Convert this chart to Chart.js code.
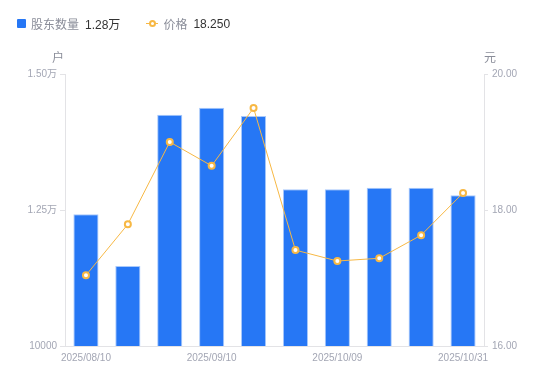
<!DOCTYPE html>
<html>
<head>
<meta charset="utf-8">
<script src="https://cdn.jsdelivr.net/npm/chart.js@4.4.0/dist/chart.umd.min.js"></script>
<style>
    body { margin: 0; background: #fff; font-family: 'Liberation Sans', 'Noto Sans CJK SC', sans-serif; }
    #wrap { position: relative; width: 550px; height: 381px; }
    #legend { position: absolute; left: 17px; top: 15px; font-size: 12px; display: flex; align-items: center; }
    .item { display: flex; align-items: center; margin-right: 26px; }
    .sq { width: 9px; height: 9px; background: #2677f5; border-radius: 1px; margin-right: 5px; }
    .ln { position: relative; width: 12px; height: 9px; margin-right: 5px; }
    .ln::before { content: ''; position: absolute; left: 0; right: 0; top: 4px; height: 1px; background: #f7b844; }
    .ln::after { content: ''; position: absolute; left: 3px; top: 1px; width: 3px; height: 3px; border: 2px solid #f7b844; border-radius: 50%; background: #fff; }
    .lab { color: #8a8d99; margin-right: 6px; }
    .val { color: #333; }
</style>
</head>
<body>
<div id="wrap">
    <div id="legend">
        <div class="item"><span class="sq"></span><span class="lab">股东数量</span><span class="val">1.28万</span></div>
        <div class="item"><span class="ln"></span><span class="lab">价格</span><span class="val">18.250</span></div>
    </div>
    <canvas id="chart" width="550" height="381"></canvas>
</div>
<script>
const dates = ['2025/08/10', '2025/08/20', '2025/08/31', '2025/09/10', '2025/09/19',
    '2025/09/30', '2025/10/09', '2025/10/17', '2025/10/24', '2025/10/31'];
const holders = [12420, 11470, 14250, 14380, 14230, 12880, 12880, 12910, 12910, 12770];
const prices = [17.04, 17.79, 19.00, 18.65, 19.50, 17.41, 17.25, 17.29, 17.63, 18.25];
const shownDates = [0, 3, 6, 9];
const leftTicks = [10000, 12500, 15000];
const rightTicks = [16, 18, 20];

const tickColor = '#a3a6b4';
const axisColor = '#e3e3e6';
const font = { family: "'Liberation Sans', 'Noto Sans CJK SC', sans-serif", size: 10 };

function fmtHolders(v) {
    if (v === 10000) return '10000';
    return (v / 10000).toFixed(2) + '万';
}

const unitPlugin = {
    id: 'units',
    afterDraw(chart) {
        const ctx = chart.ctx;
        ctx.save();
        ctx.font = "12px 'Noto Sans CJK SC', sans-serif";
        ctx.fillStyle = '#8a8d99';
        ctx.textAlign = 'center';
        ctx.textBaseline = 'middle';
        ctx.fillText('户', chart.chartArea.left - 7, chart.chartArea.top - 17);
        ctx.fillText('元', chart.chartArea.right + 6, chart.chartArea.top - 17);
        ctx.restore();
    }
};

// eslint-disable-next-line no-undef
new Chart(document.getElementById('chart').getContext('2d'), {
    type: 'bar',
    data: {
        labels: dates,
        datasets: [{
            type: 'line',
            label: '价格',
            data: prices,
            yAxisID: 'y1',
            borderColor: '#f7b844',
            borderWidth: 1,
            tension: 0,
            pointRadius: 3,
            pointBorderWidth: 2,
            pointBackgroundColor: '#fff',
            pointBorderColor: '#f7b844',
            order: 1
        }, {
            label: '股东数量',
            data: holders,
            yAxisID: 'y',
            backgroundColor: '#2677f5',
            borderColor: '#a9c9fb',
            borderWidth: 1,
            barPercentage: 0.6,
            categoryPercentage: 1,
            order: 2
        }]
    },
    options: {
        responsive: false,
        animation: false,
        layout: { padding: { top: 74, left: 0, right: 0, bottom: 0 } },
        plugins: { legend: { display: false }, tooltip: { enabled: false } },
        scales: {
            x: {
                grid: { display: false, drawTicks: false },
                border: { display: true, color: axisColor },
                ticks: {
                    autoSkip: false,
                    maxRotation: 0,
                    color: tickColor,
                    font: font,
                    padding: 6,
                    callback: (v, i) => shownDates.includes(i) ? dates[i] : ''
                },
                afterFit: s => { s.height = 35; }
            },
            y: {
                position: 'left',
                min: 10000,
                max: 15000,
                afterBuildTicks: s => { s.ticks = leftTicks.map(v => ({ value: v })); },
                grid: { drawOnChartArea: false, tickLength: 5, color: axisColor },
                border: { color: axisColor },
                ticks: { color: tickColor, font: font, padding: 3, callback: v => fmtHolders(v) },
                afterFit: s => { s.width = 65; }
            },
            y1: {
                position: 'right',
                min: 16,
                max: 20,
                afterBuildTicks: s => { s.ticks = rightTicks.map(v => ({ value: v })); },
                grid: { drawOnChartArea: false, tickLength: 4, color: axisColor },
                border: { color: axisColor },
                ticks: { color: tickColor, font: font, padding: 4, callback: v => v.toFixed(2) },
                afterFit: s => { s.width = 66; }
            }
        }
    },
    plugins: [unitPlugin]
});
</script>
</body>
</html>
